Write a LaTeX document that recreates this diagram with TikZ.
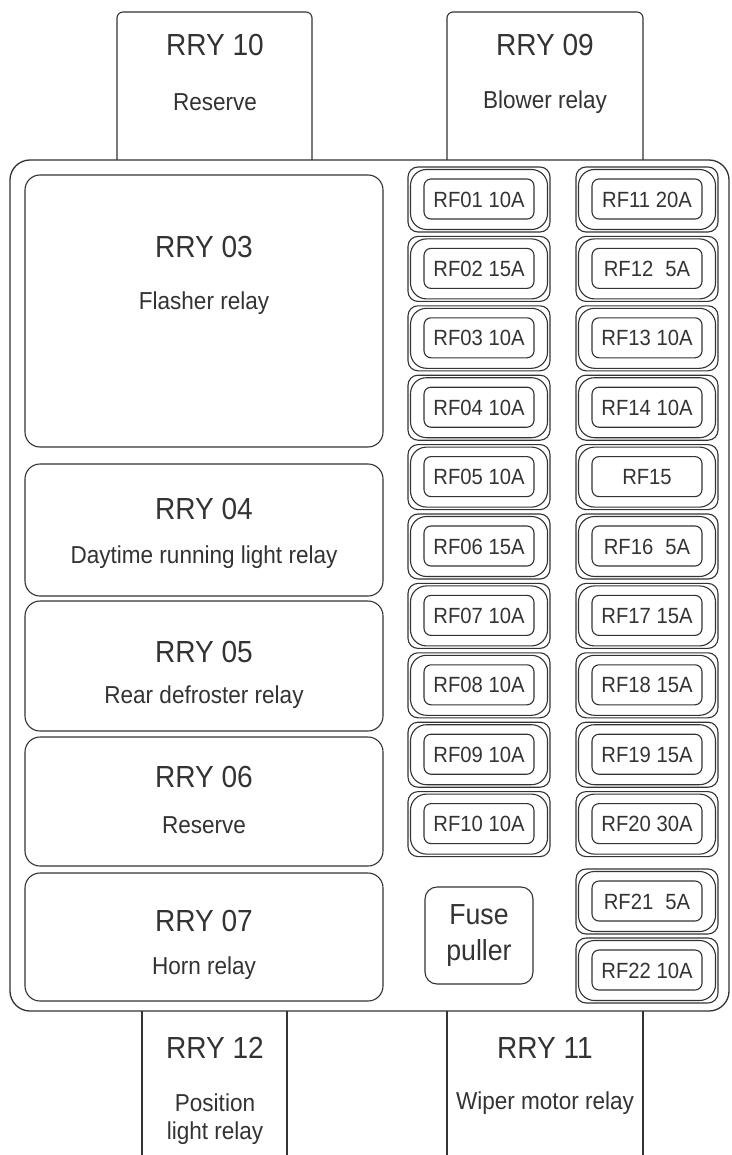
\documentclass[tikz,border=0pt]{standalone}
\usepackage{fontspec}
\setmainfont{Liberation Sans}[FakeStretch=0.92]
\usepackage{tikz}
\definecolor{inkline}{rgb}{0.2,0.2,0.2}

\begin{document}
\begin{tikzpicture}[x=1pt, y=-1pt, line width=1.1pt, color=inkline,
    bigtxt/.style={font=\fontsize{30.5}{32}\selectfont, inner sep=0pt},
    smalltxt/.style={font=\fontsize{24.5}{26}\selectfont, inner sep=0pt},
    fusetxt/.style={font=\fontsize{22}{23}\selectfont, inner sep=0pt},
    pullertxt/.style={font=\fontsize{29}{30}\selectfont, inner sep=0pt}]

  \useasboundingbox (0,0) rectangle (731,1155);

  % housing and the relays that stick out of it
  \draw[rounded corners=20pt, line width=1.3pt] (10,160) rectangle (729,1011);
  \draw[rounded corners=6pt] (117,160) -- (117,12) -- (312,12) -- (312,160);
  \draw[rounded corners=6pt] (447,160) -- (447,12) -- (643,12) -- (643,160);
  \draw (142,1011) -- (142,1155);
  \draw (287,1011) -- (287,1155);
  \draw (447,1011) -- (447,1155);
  \draw (643,1011) -- (643,1155);

  \node[bigtxt] (rry10) at (215,45) {RRY 10};
  \node[smalltxt] (rry10t) at (215,102) {Reserve};
  \node[bigtxt] (rry09) at (545,45) {RRY 09};
  \node[smalltxt] (rry09t) at (545,102) {Blower relay};
  \node[bigtxt] (rry12) at (215,1048) {RRY 12};
  \node[smalltxt] (rry12t) at (215,1103) {Position};
  \node[smalltxt] (rry12u) at (215,1133) {light relay};
  \node[bigtxt] (rry11) at (545,1048) {RRY 11};
  \node[smalltxt] (rry11t) at (545,1103) {Wiper motor relay};

  % relays inside
  \draw[rounded corners=15pt] (25,175) rectangle (383,447);
  \draw[rounded corners=15pt] (25,464) rectangle (383,596);
  \draw[rounded corners=15pt] (25,601) rectangle (383,731);
  \draw[rounded corners=15pt] (25,737) rectangle (383,866);
  \draw[rounded corners=15pt] (25,873) rectangle (383,1001);

  \node[bigtxt] (rry03) at (204,247) {RRY 03};
  \node[smalltxt] (rry03t) at (204,303) {Flasher relay};
  \node[bigtxt] (rry04) at (204,509) {RRY 04};
  \node[smalltxt] (rry04t) at (204,557) {Daytime running light relay};
  \node[bigtxt] (rry05) at (204,652) {RRY 05};
  \node[smalltxt] (rry05t) at (204,697) {Rear defroster relay};
  \node[bigtxt] (rry06) at (204,777) {RRY 06};
  \node[smalltxt] (rry06t) at (204,825) {Reserve};
  \node[bigtxt] (rry07) at (204,921) {RRY 07};
  \node[smalltxt] (rry07t) at (204,968) {Horn relay};

  % fuses
  \foreach \n/\yy/\lab in {01/167/{RF01 10A}, 02/236.4/{RF02 15A}, 03/305.8/{RF03 10A},
      04/375.2/{RF04 10A}, 05/444.6/{RF05 10A}, 06/514/{RF06 15A}, 07/583.4/{RF07 10A},
      08/652.8/{RF08 10A}, 09/722.2/{RF09 10A}, 10/791.6/{RF10 10A}}{
    \draw[rounded corners=10pt] (408,\yy) rectangle ++(142,65);
    \draw[rounded corners=16pt] (410.5,\yy+2.5) rectangle ++(137,60);
    \draw[rounded corners=7pt] (424,\yy+12) rectangle ++(110,40);
    \node[fusetxt] (rf\n) at (479,\yy+32.5) {\lab};
  }
  \foreach \n/\yy/\lab in {11/167/{RF11 20A}, 12/236.4/{RF12\hspace{0.55em}5A}, 13/305.8/{RF13 10A},
      14/375.2/{RF14 10A}, 15/444.6/{RF15}, 16/514/{RF16\hspace{0.55em}5A}, 17/583.4/{RF17 15A},
      18/652.8/{RF18 15A}, 19/722.2/{RF19 15A}, 20/791.6/{RF20 30A},
      21/869/{RF21\hspace{0.55em}5A}, 22/938/{RF22 10A}}{
    \draw[rounded corners=10pt] (576,\yy) rectangle ++(142,65);
    \draw[rounded corners=16pt] (578.5,\yy+2.5) rectangle ++(137,60);
    \draw[rounded corners=7pt] (592,\yy+12) rectangle ++(110,40);
    \node[fusetxt] (rf\n) at (647,\yy+32.5) {\lab};
  }

  % fuse puller
  \draw[rounded corners=12pt] (425,887) rectangle (533,984);
  \node[pullertxt] (puller1) at (479,915) {Fuse};
  \node[pullertxt] (puller2) at (479,953) {puller};
\end{tikzpicture}
\end{document}
